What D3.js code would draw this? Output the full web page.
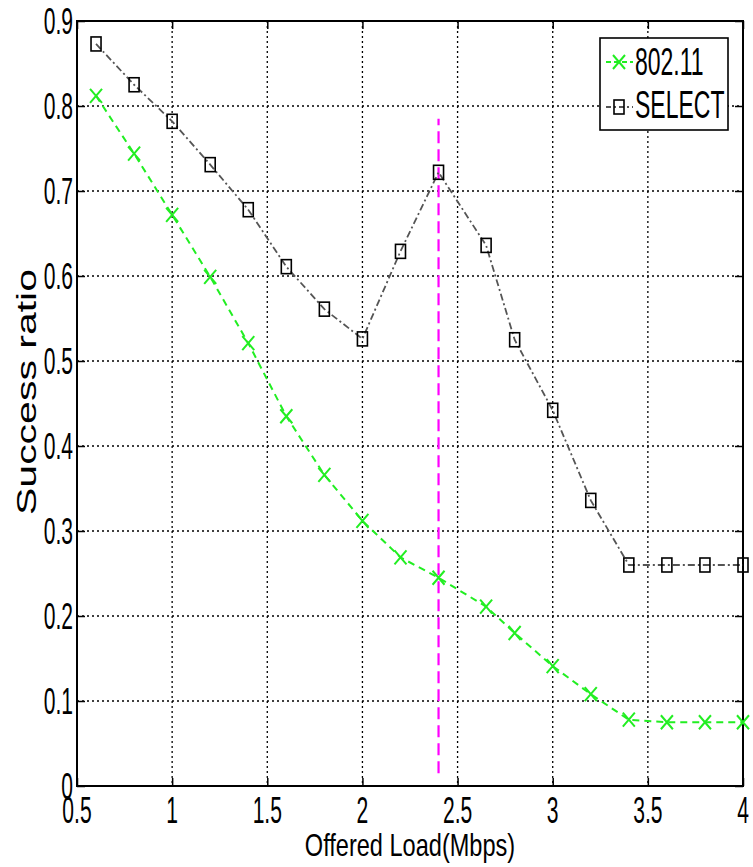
<!DOCTYPE html>
<html>
<head>
<meta charset="utf-8">
<script src="https://cdn.jsdelivr.net/npm/d3@7"></script>
<style>
  body { margin: 0; background: #fff; }
  text { font-family: "Liberation Sans", Arial, sans-serif; fill: #000; }
</style>
</head>
<body>
<div id="chart"></div>
<script>
// values
var loads = [0.6, 0.8, 1.0, 1.2, 1.4, 1.6, 1.8, 2.0, 2.2, 2.4, 2.65, 2.8, 3.0, 3.2, 3.4, 3.6, 3.8, 4.0];
var ieee = [0.812, 0.744, 0.672, 0.599, 0.521, 0.435, 0.366, 0.312, 0.269, 0.245, 0.211, 0.18, 0.141, 0.108, 0.078, 0.075, 0.075, 0.075];
var select = [0.873, 0.825, 0.782, 0.731, 0.678, 0.611, 0.561, 0.526, 0.629, 0.722, 0.636, 0.525, 0.442, 0.336, 0.26, 0.26, 0.26, 0.26];
var xTicks = [0.5, 1, 1.5, 2, 2.5, 3, 3.5, 4];
var yTicks = [0, 0.1, 0.2, 0.3, 0.4, 0.5, 0.6, 0.7, 0.8, 0.9];
var markLoad = 2.4;
var markRange = [0.015, 0.785];
var seriesNames = ["802.11", "SELECT"];

var W = 753, H = 867;
var pLeft = 77, pRight = 743, pTop = 21, pBottom = 786;
var narrow = 0.57;

var svg = d3.select("#chart").append("svg")
    .attr("width", W)
    .attr("height", H);

var x = d3.scaleLinear().domain([0.5, 4]).range([pLeft, pRight]);
var y = d3.scaleLinear().domain([0, 0.9]).range([pBottom, pTop]);

// grid
svg.append("g").selectAll("line").data(xTicks.slice(1, -1)).enter().append("line")
    .attr("x1", d => x(d)).attr("x2", d => x(d))
    .attr("y1", pTop).attr("y2", pBottom)
    .attr("stroke", "#000").attr("stroke-width", 1.3).attr("stroke-dasharray", "2,3");
svg.append("g").selectAll("line").data(yTicks.slice(1, -1)).enter().append("line")
    .attr("x1", pLeft).attr("x2", pRight)
    .attr("y1", d => y(d)).attr("y2", d => y(d))
    .attr("stroke", "#000").attr("stroke-width", 1.3).attr("stroke-dasharray", "2,3");

// axes with inward ticks on all sides
function styleAxis(g) {
    g.selectAll("text").remove();
    g.select(".domain").remove();
    g.selectAll("line").attr("stroke", "#000").attr("stroke-width", 1.5);
}
svg.append("g").attr("transform", "translate(0," + pBottom + ")")
    .call(d3.axisBottom(x).tickValues(xTicks).tickSize(-8)).call(styleAxis);
svg.append("g").attr("transform", "translate(0," + pTop + ")")
    .call(d3.axisTop(x).tickValues(xTicks).tickSize(-8)).call(styleAxis);
svg.append("g").attr("transform", "translate(" + pLeft + ",0)")
    .call(d3.axisLeft(y).tickValues(yTicks).tickSize(-8)).call(styleAxis);
svg.append("g").attr("transform", "translate(" + pRight + ",0)")
    .call(d3.axisRight(y).tickValues(yTicks).tickSize(-8)).call(styleAxis);

svg.append("rect")
    .attr("x", pLeft).attr("y", pTop)
    .attr("width", pRight - pLeft).attr("height", pBottom - pTop)
    .attr("fill", "none").attr("stroke", "#000").attr("stroke-width", 2);

// tick labels (tall narrow font)
svg.append("g").selectAll("text").data(xTicks).enter().append("text")
    .attr("transform", d => "translate(" + x(d) + "," + (pBottom + 37) + ") scale(" + narrow + ",1)")
    .attr("text-anchor", "middle")
    .style("font-size", "37px")
    .text(d => d);
svg.append("g").selectAll("text").data(yTicks).enter().append("text")
    .attr("transform", d => "translate(" + (pLeft - 4) + "," + (y(d) + 13) + ") scale(" + narrow + ",1)")
    .attr("text-anchor", "end")
    .style("font-size", "37px")
    .text(d => d);

// axis titles
svg.append("text")
    .attr("transform", "translate(410,856) scale(0.76,1)")
    .attr("text-anchor", "middle")
    .style("font-size", "31px")
    .text("Offered Load(Mbps)");
svg.append("text")
    .attr("transform", "translate(36,392) rotate(-90) scale(1,0.66)")
    .attr("text-anchor", "middle")
    .style("font-size", "41px")
    .text("Success ratio");

// vertical marker
svg.append("line")
    .attr("x1", x(markLoad)).attr("x2", x(markLoad))
    .attr("y1", y(markRange[0])).attr("y2", y(markRange[1]))
    .attr("stroke", "#ff00ff").attr("stroke-width", 2.2).attr("stroke-dasharray", "12,6");

var line = d3.line().x(d => x(d[0])).y(d => y(d[1]));
var ieeePts = loads.map((d, i) => [d, ieee[i]]);
var selectPts = loads.map((d, i) => [d, select[i]]);

svg.append("path").datum(ieeePts).attr("d", line)
    .attr("fill", "none").attr("stroke", "#22ee22").attr("stroke-width", 2).attr("stroke-dasharray", "7,5");
svg.append("path").datum(selectPts).attr("d", line)
    .attr("fill", "none").attr("stroke", "#555").attr("stroke-width", 1.8).attr("stroke-dasharray", "7,3,2,3");

function cross(g, cx, cy) {
    g.append("path")
        .attr("d", "M" + (cx - 6) + "," + (cy - 7) + "L" + (cx + 6) + "," + (cy + 7) +
            "M" + (cx - 6) + "," + (cy + 7) + "L" + (cx + 6) + "," + (cy - 7))
        .attr("stroke", "#22ee22").attr("stroke-width", 2).attr("fill", "none");
}
function square(g, cx, cy) {
    g.append("rect")
        .attr("x", cx - 5).attr("y", cy - 7).attr("width", 10).attr("height", 14)
        .attr("fill", "none").attr("stroke", "#000").attr("stroke-width", 1.6);
}
var mk = svg.append("g");
ieeePts.forEach(d => cross(mk, x(d[0]), y(d[1])));
selectPts.forEach(d => square(mk, x(d[0]), y(d[1])));

// legend
var lg = svg.append("g");
lg.append("rect").attr("x", 600).attr("y", 38).attr("width", 128).attr("height", 92)
    .attr("fill", "#fff").attr("stroke", "#000").attr("stroke-width", 1.6);
lg.append("line").attr("x1", 606).attr("x2", 633).attr("y1", 62).attr("y2", 62)
    .attr("stroke", "#22ee22").attr("stroke-width", 2).attr("stroke-dasharray", "5,3");
cross(lg, 619, 62);
lg.append("line").attr("x1", 606).attr("x2", 633).attr("y1", 107).attr("y2", 107)
    .attr("stroke", "#555").attr("stroke-width", 1.8).attr("stroke-dasharray", "5,3,2,3");
square(lg, 619, 107);
lg.selectAll("text.lab").data(seriesNames).enter().append("text")
    .attr("transform", (d, i) => "translate(635," + (75 + i * 43) + ") scale(0.59,1)")
    .style("font-size", "39px")
    .text(d => d);
</script>
</body>
</html>
